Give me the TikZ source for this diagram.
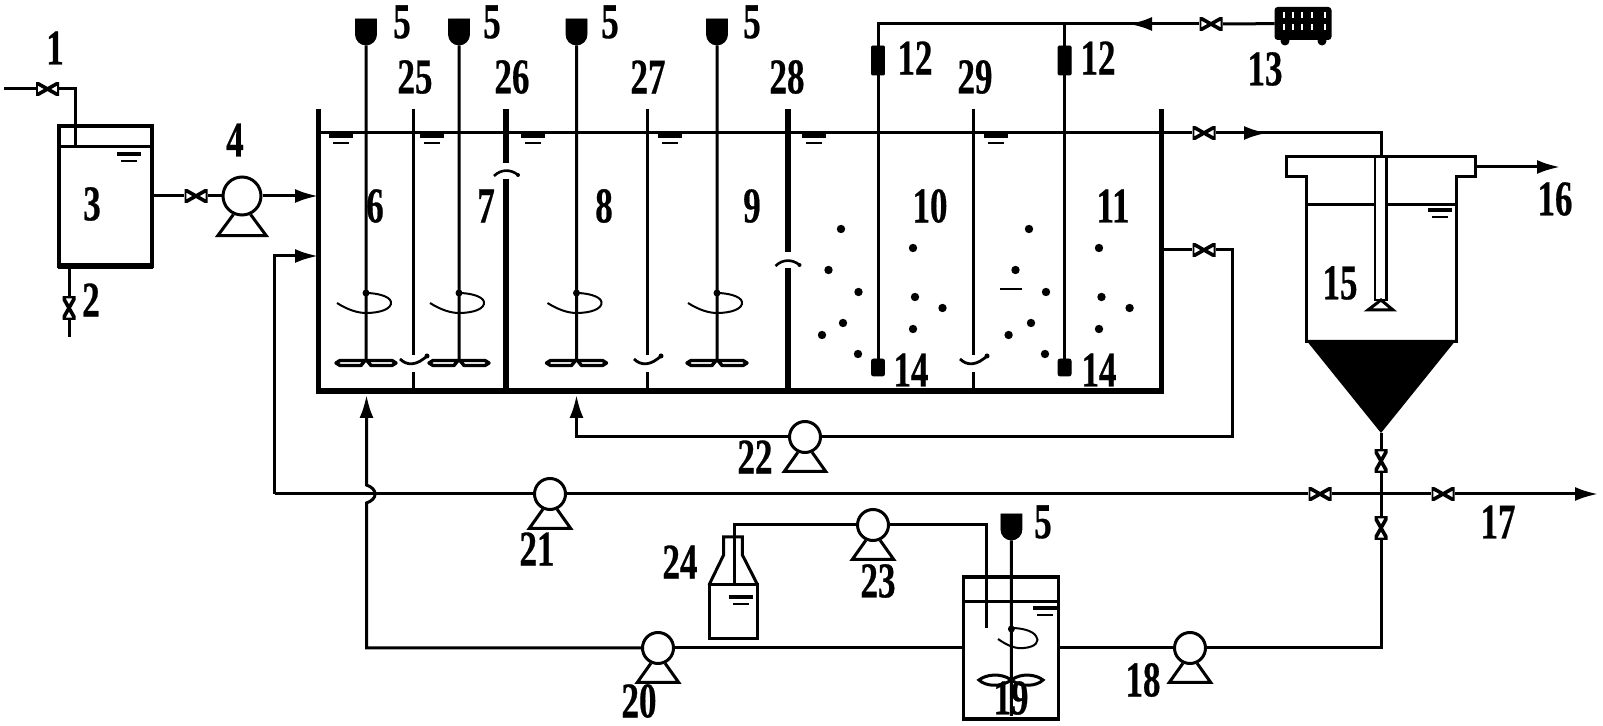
\documentclass[tikz,border=0pt]{standalone}
\usepackage{fontspec}
\setmainfont[BoldFeatures={FakeBold=.6}]{Liberation Serif}
\usetikzlibrary{positioning,arrows.meta,calc,shapes.misc}
\newcommand\lblfont{\fontsize{25}{25}\selectfont\bfseries}
\newcommand\pumpbase[3]{\draw[pipe] (#1.-65) -- ++(#2,#3) -- ($(#1.-115)+(-#2,#3)$) -- (#1.-115) ;}
\tikzset{
  pipe/.style={line width=1.5pt},
  wall/.style={line width=2.7pt},
  divider/.style={line width=3pt},
  baffle/.style={line width=1.5pt},
  arr/.style={-{Latex[length=11.5pt,width=7pt]}},
  lbl/.style={font=\lblfont,xscale=.7,inner sep=0pt},
  pump/.style={circle,draw,line width=1.5pt,fill=white,inner sep=0pt,minimum size=15.5pt},
  valve/.style={inner sep=0pt,minimum width=11.5pt,minimum height=6.5pt,fill=white,
    path picture={\draw[line width=1.8pt] (path picture bounding box.north west) -- (path picture bounding box.south east) -- (path picture bounding box.north east) -- (path picture bounding box.south west) -- cycle;}},
  vvalve/.style={inner sep=0pt,minimum width=6.5pt,minimum height=11.5pt,fill=white,
    path picture={\draw[line width=1.8pt] (path picture bounding box.north west) -- (path picture bounding box.north east) -- (path picture bounding box.south west) -- (path picture bounding box.south east) -- cycle;}},
  motor/.style={rounded rectangle,rounded rectangle west arc=none,rotate=-90,fill=black,draw,inner sep=0pt,minimum width=13pt,minimum height=10.5pt},
  sensor/.style={draw,fill=black,rounded corners=.5pt,inner sep=0pt,minimum width=6.5pt,minimum height=14.5pt},
  block/.style={draw,fill=black,rounded corners=1pt,inner sep=0pt,minimum width=6.5pt,minimum height=8.5pt},
  bubble/.style={circle,fill=black,inner sep=0pt,minimum size=4.2pt},
  tank/.style={draw,line width=1.6pt,inner sep=0pt},
  pics/level/.style={code={
    \draw[line width=1.6pt] (-12,0) -- (12,0) ;
    \draw[line width=1.4pt] (-8,7) -- (8,7) ;
  }},
  pics/stirrer/.style={code={
    \draw[line width=1pt] (-29,10) .. controls (-18,17) and (-8,20) .. (0,20) .. controls (14,20) and (26,16) .. (25,9) .. controls (24,3) and (10,0) .. (0,0) ;
    \fill (0,0) circle (3.5) ;
    \draw[line width=1.7pt,line join=round] (-1,67.5) -- (-26,67.5) -- (-30,70) -- (-26,72.5) -- (-5,72.5) -- cycle ;
    \draw[line width=1.7pt,line join=round] (1,67.5) -- (26,67.5) -- (30,70) -- (26,72.5) -- (5,72.5) -- cycle ;
  }},
  pics/flap/.style={code={
    \draw[line width=1.4pt] (-13,-1) .. controls (-6,6) and (4,6) .. (15,-5) ;
    \fill (14,-4) circle (2.5) ;
  }},
  pics/hood/.style={code={
    \draw[line width=1.3pt] (-12,4) .. controls (-5,-3) and (5,-3) .. (12,3) ;
    \fill (12,3) circle (2) ;
  }}
}
\begin{document}
\begin{tikzpicture}[x=.5pt,y=-.5pt]
\useasboundingbox (0,0) rectangle (1603,726) ;

\node[lbl] (l1) at (55,48) {1} ;
\node[lbl] (l2) at (91,300) {2} ;
\node[lbl] (l3) at (92,204) {3} ;
\node[lbl] (l4) at (235,140) {4} ;
\node[lbl] (l5a) at (402,22) {5} ;
\node[lbl] (l5b) at (492,22) {5} ;
\node[lbl] (l5c) at (610,22) {5} ;
\node[lbl] (l5d) at (752,22) {5} ;
\node[lbl] (l5e) at (1043,522) {5} ;
\node[lbl] (l6) at (375,206) {6} ;
\node[lbl] (l7) at (486,206) {7} ;
\node[lbl] (l8) at (604,206) {8} ;
\node[lbl] (l9) at (752,206) {9} ;
\node[lbl] (l10) at (930,206) {10} ;
\node[lbl] (l11) at (1113,206) {11} ;
\node[lbl] (l12a) at (915,58) {12} ;
\node[lbl] (l12b) at (1098,58) {12} ;
\node[lbl] (l13) at (1265,69) {13} ;
\node[lbl] (l14a) at (911,370) {14} ;
\node[lbl] (l14b) at (1099,370) {14} ;
\node[lbl] (l15) at (1340,283) {15} ;
\node[lbl] (l16) at (1555,199) {16} ;
\node[lbl] (l17) at (1498,522) {17} ;
\node[lbl] (l18) at (1143,680) {18} ;
\node[lbl] (l19) at (1011,698) {19} ;
\node[lbl] (l20) at (639,701) {20} ;
\node[lbl] (l21) at (537,549) {21} ;
\node[lbl] (l22) at (755,457) {22} ;
\node[lbl] (l23) at (878,581) {23} ;
\node[lbl] (l24) at (680,562) {24} ;
\node[lbl] (l25) at (415,77) {25} ;
\node[lbl] (l26) at (512,77) {26} ;
\node[lbl] (l27) at (648,77) {27} ;
\node[lbl] (l28) at (787,77) {28} ;
\node[lbl] (l29) at (975,77) {29} ;

\node[tank,minimum width=46.5pt,minimum height=70pt] (t3) at (105.5,196) {} ;
\node[tank,minimum width=47.5pt,minimum height=71pt] (t19) at (1011,648) {} ;
\node[draw,fill=black,line width=1.5pt,rounded corners=1pt,inner sep=0pt,minimum width=27pt,minimum height=15pt] (c13) at (1303,23.5) {} ;

\node[pump,minimum size=19pt] (p4) at (242,196) {} ;
\node[pump] (p18) at (1190,648) {} ;
\node[pump] (p20) at (658,648) {} ;
\node[pump] (p21) at (550,494) {} ;
\node[pump] (p22) at (805,437) {} ;
\node[pump] (p23) at (873,525) {} ;

\node[valve] (v1) at (47.5,89) {} ;
\node[vvalve] (v2) at (69,308) {} ;
\node[valve] (v4) at (196,196) {} ;
\node[valve] (v11) at (1204,133) {} ;
\node[valve] (v13) at (1211,24) {} ;
\node[valve] (v22) at (1204,250) {} ;
\node[valve] (v21) at (1320,494) {} ;
\node[valve] (v17) at (1443,494) {} ;
\node[vvalve] (v15) at (1381,461) {} ;
\node[vvalve] (v18) at (1381,528) {} ;

\node[motor] (m1) at (366,32) {} ;
\node[motor] (m2) at (459,32) {} ;
\node[motor] (m3) at (576.5,32) {} ;
\node[motor] (m4) at (717,32) {} ;
\node[motor] (m5) at (1011.4,527) {} ;

\node[sensor] (s1) at (878,60.5) {} ;
\node[sensor] (s2) at (1064.6,60.5) {} ;
\node[block] (d1) at (878,367.5) {} ;
\node[block] (d2) at (1064.6,367.5) {} ;

\node[bubble] (b1) at (841,229) {} ;
\node[bubble] (b2) at (913,248) {} ;
\node[bubble] (b3) at (828.5,270) {} ;
\node[bubble] (b4) at (858.5,292) {} ;
\node[bubble] (b5) at (915,297) {} ;
\node[bubble] (b6) at (942.5,308) {} ;
\node[bubble] (b7) at (843,323) {} ;
\node[bubble] (b8) at (913,329) {} ;
\node[bubble] (b9) at (822,335) {} ;
\node[bubble] (b10) at (858,354) {} ;
\node[bubble] (b11) at (1029,229) {} ;
\node[bubble] (b12) at (1015.5,270) {} ;
\node[bubble] (b13) at (1046,292) {} ;
\node[bubble] (b14) at (1031,323) {} ;
\node[bubble] (b15) at (1008.6,335) {} ;
\node[bubble] (b16) at (1045,354) {} ;
\node[bubble] (b17) at (1099,248) {} ;
\node[bubble] (b18) at (1101.5,297) {} ;
\node[bubble] (b19) at (1129.6,308) {} ;
\node[bubble] (b20) at (1099,329) {} ;

\coordinate (i1) at (4,89) ;
\coordinate (i1a) at (75,89) ;
\coordinate (i1b) at (75,147) ;
\coordinate (o2a) at (69,266) ;
\coordinate (o2b) at (69,337) ;
\coordinate (in1) at (318,196) ;
\coordinate (in2) at (318,256) ;
\coordinate (n21a) at (274.5,256) ;
\coordinate (n21b) at (274.5,494) ;
\coordinate (ww0) at (318,133) ;
\coordinate (a11) at (1267,133) ;
\coordinate (a11b) at (1255,133) ;
\coordinate (top15) at (1381,157) ;
\coordinate (air1) at (878,24) ;
\coordinate (air2) at (1064.6,24) ;
\coordinate (a13) at (1129,24) ;
\coordinate (a13b) at (1141,24) ;
\coordinate (o16a) at (1475,167) ;
\coordinate (o16b) at (1560,167) ;
\coordinate (c15) at (1381,433) ;
\coordinate (j17) at (1381,494) ;
\coordinate (e17) at (1598,494) ;
\coordinate (k18) at (1381,648) ;
\coordinate (k20) at (366.5,648) ;
\coordinate (j20a) at (366.5,503) ;
\coordinate (j20b) at (366.5,485) ;
\coordinate (in3) at (366.5,395) ;
\coordinate (r22a) at (1161,250) ;
\coordinate (r22b) at (1232,250) ;
\coordinate (r22c) at (1232,437) ;
\coordinate (r22d) at (576.5,437) ;
\coordinate (in4) at (576.5,395) ;
\coordinate (n24a) at (734,525) ;
\coordinate (n24b) at (734,586) ;
\coordinate (k23) at (986.5,525) ;
\coordinate (k23b) at (986.5,628) ;

\draw[wall] (318.5,109) -- (318.5,391) -- (1161.5,391) -- (1161.5,109) ;

\draw[baffle] (413,109) -- (413,355) ;
\draw[baffle] (413,372) -- (413,391) ;
\draw[baffle] (647,109) -- (647,355) ;
\draw[baffle] (647,372) -- (647,391) ;
\draw[baffle] (973,109) -- (973,355) ;
\draw[baffle] (973,372) -- (973,391) ;
\draw[divider] (506,109) -- (506,163) ;
\draw[divider] (506,179) -- (506,391) ;
\draw[divider] (787.5,109) -- (787.5,252) ;
\draw[divider] (787.5,268) -- (787.5,391) ;

\pic at (413,360) {flap} ;
\pic at (647,360) {flap} ;
\pic at (973,360) {flap} ;
\pic at (506,172) {hood} ;
\pic at (787.5,262) {hood} ;

\draw[pipe] (ww0) -- (v11) ;
\draw[pipe,arr] (v11) -- (a11) ;
\draw[pipe] (a11b) -| (top15) ;

\draw[pipe] (m1) -- (366,362) ;
\draw[pipe] (m2) -- (459,362) ;
\draw[pipe] (m3) -- (576.5,362) ;
\draw[pipe] (m4) -- (717,362) ;
\draw[pipe] (m5) -- (1011.4,716) ;
\pic at (366,293) {stirrer} ;
\pic at (459,293) {stirrer} ;
\pic at (576.5,293) {stirrer} ;
\pic at (717,293) {stirrer} ;

\draw[pipe] (i1) -- (v1) ;
\draw[pipe] (v1) -- (i1a) -- (i1b) ;
\draw[pipe] (o2a) -- (v2) ;
\draw[pipe] (v2) -- (o2b) ;
\draw[pipe] (t3) -- (v4) ;
\draw[pipe] (v4) -- (p4) ;
\draw[pipe,arr] (p4) -- (in1) ;
\draw[pipe,arr] (n21b) -- (n21a) -- (in2) ;
\draw[pipe] (n21b) -- (p21) ;
\draw[pipe] (p21) -- (v21) ;
\draw[pipe] (v21) -- (j17) ;
\draw[pipe] (j17) -- (v17) ;
\draw[pipe,arr] (v17) -- (e17) ;
\draw[pipe] (c13) -- (v13) ;
\draw[pipe,arr] (v13) -- (a13) ;
\draw[pipe] (a13b) -- (air1) -- (s1) ;
\draw[pipe] (s1) -- (d1) ;
\draw[pipe] (air2) -- (s2) ;
\draw[pipe] (s2) -- (d2) ;
\draw[pipe,arr] (o16a) -- (o16b) ;
\draw[pipe] (c15) -- (v15) ;
\draw[pipe] (v15) -- (j17) ;
\draw[pipe] (j17) -- (v18) ;
\draw[pipe] (v18) -- (k18) -- (p18) ;
\draw[pipe] (p18) -- (t19) ;
\draw[pipe] (t19) -- (p20) ;
\draw[pipe,arr] (p20) -- (k20) -- (j20a) .. controls (378,499) and (378,489) .. (j20b) -- (in3) ;
\draw[pipe] (r22a) -- (v22) ;
\draw[pipe] (v22) -- (r22b) -- (r22c) -- (p22) ;
\draw[pipe,arr] (p22) -- (r22d) -- (in4) ;
\draw[pipe] (n24b) -- (n24a) -- (p23) ;
\draw[pipe] (p23) -- (k23) -- (k23b) ;

\pumpbase{p4}{15.5}{21}
\pumpbase{p18}{13.5}{19}
\pumpbase{p20}{13.5}{19}
\pumpbase{p21}{13.5}{19}
\pumpbase{p22}{13.5}{19}
\pumpbase{p23}{13.5}{19}

\draw[pipe] (59,147) -- (152,147) ;
\draw[wall] (58,266) -- (153,266) ;
\draw[pipe] (964,602) -- (1058,602) ;

\draw[pipe] (1286.5,157) -- (1475,157) -- (1475,177) -- (1456,177) -- (1456,342) -- (1306,342) -- (1306,177) -- (1286.5,177) -- cycle ;
\draw[pipe] (1306,205) -- (1456,205) ;
\fill (1306,340) -- (1456,340) -- (c15) -- cycle ;
\draw[line width=1.2pt,fill=white] (1375,157) rectangle (1386.5,300) ;
\draw[pipe,fill=white] (1381,300) -- (1393,310) -- (1368,310) -- cycle ;

\draw[pipe] (709,585) -- (723.6,555) -- (723.6,537) -- (742.4,537) -- (742.4,555) -- (757.7,585) ;
\draw[pipe] (709,585) rectangle (757.7,639) ;

\draw[line width=1pt] (998,639) .. controls (1008,646) and (1016,649) .. (1024,648) .. controls (1036,647) and (1040,641) .. (1036,636) .. controls (1032,630) and (1020,628) .. (1011.4,628) ;
\fill (1011.4,629) circle (3.5) ;
\draw[pipe] (1011.4,680) .. controls (1000,672) and (985,675) .. (979,680) .. controls (985,686) and (1000,688) .. (1011.4,680) .. controls (1022,672) and (1037,675) .. (1043,680) .. controls (1037,686) and (1022,688) .. (1011.4,680) ;

\pic at (341,136) {level} ;
\pic at (432,136) {level} ;
\pic at (533,136) {level} ;
\pic at (670,136) {level} ;
\pic at (814,136) {level} ;
\pic at (996,136) {level} ;
\pic at (129,154) {level} ;
\pic at (1440,210) {level} ;
\pic at (741,597) {level} ;
\pic at (1045,608) {level} ;

\draw[line width=1pt] (1000,289) -- (1022,289) ;

\draw[white,line width=.8pt,dashed] (1284,12) -- (1284,36) ;
\draw[white,line width=.8pt,dashed] (1293,12) -- (1293,36) ;
\draw[white,line width=.8pt,dashed] (1302,12) -- (1302,36) ;
\draw[white,line width=.8pt,dashed] (1312,12) -- (1312,36) ;
\draw[white,line width=.8pt,dashed] (1325,12) -- (1325,36) ;
\fill (1285,41) circle (4.5) ;
\fill (1322,41) circle (4.5) ;

\end{tikzpicture}
\end{document}
